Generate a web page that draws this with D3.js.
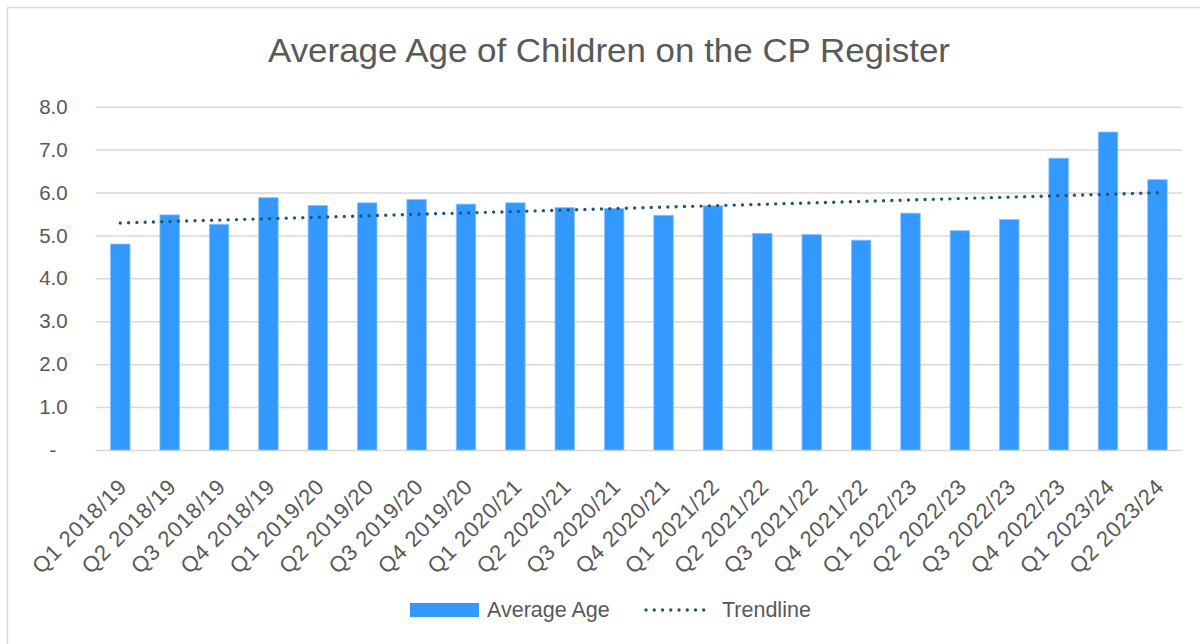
<!DOCTYPE html>
<html>
<head>
<meta charset="utf-8">
<script src="https://cdn.jsdelivr.net/npm/d3@7"></script>
<style>
  body { margin: 0; background: #fff; }
  svg { display: block; font-family: "Liberation Sans", Arial, sans-serif; }
</style>
</head>
<body>
<svg id="chart" width="1200" height="644"></svg>
<script>
// quarters on the x axis
var quarters = ["Q1 2018/19", "Q2 2018/19", "Q3 2018/19", "Q4 2018/19",
	"Q1 2019/20", "Q2 2019/20", "Q3 2019/20", "Q4 2019/20",
	"Q1 2020/21", "Q2 2020/21", "Q3 2020/21", "Q4 2020/21",
	"Q1 2021/22", "Q2 2021/22", "Q3 2021/22", "Q4 2021/22",
	"Q1 2022/23", "Q2 2022/23", "Q3 2022/23", "Q4 2022/23",
	"Q1 2023/24", "Q2 2023/24"];
// average age per quarter
var averageAge = [4.80, 5.48, 5.26, 5.88, 5.70, 5.76, 5.84, 5.73,
	5.76, 5.65, 5.63, 5.47, 5.69, 5.05, 5.02, 4.89,
	5.52, 5.11, 5.37, 6.80, 7.41, 6.30];
var yTicks = [0, 1, 2, 3, 4, 5, 6, 7, 8];

var titleText = "Average Age of Children on the CP Register";
var textColor = "#595959";
var gridColor = "#d9d9d9";
var barColor = "#3399ff";
var trendColor = "#1b5877";

var svg = d3.select("#chart");

// outer border (only top and left show inside the picture)
svg.append("rect")
	.attr("x", 7.5).attr("y", 7.5)
	.attr("width", 1240).attr("height", 700)
	.attr("fill", "none")
	.attr("stroke", gridColor)
	.attr("stroke-width", 1.5);

var plot = { left: 95.7, right: 1182, top: 106.7, bottom: 450 };

var x = d3.scaleBand()
	.domain(quarters)
	.range([plot.left, plot.right])
	.paddingInner(0.605)
	.paddingOuter(0.3);

var y = d3.scaleLinear()
	.domain([0, 8])
	.range([plot.bottom, plot.top]);

// title
svg.append("text")
	.attr("x", 609)
	.attr("y", 62)
	.attr("text-anchor", "middle")
	.attr("font-size", 33)
	.attr("fill", textColor)
	.attr("textLength", 682)
	.attr("lengthAdjust", "spacingAndGlyphs")
	.text(titleText);

// gridlines + y labels
var yAxis = d3.axisLeft(y)
	.tickValues(yTicks)
	.tickSize(-(plot.right - plot.left))
	.tickPadding(28)
	.tickFormat(function(d){ return d === 0 ? "-" : d3.format(".1f")(d); });

var gy = svg.append("g")
	.attr("transform", "translate(" + plot.left + ",0)")
	.call(yAxis);
gy.select(".domain").remove();
gy.selectAll(".tick line")
	.attr("stroke", gridColor)
	.attr("stroke-width", 1.5);
gy.selectAll(".tick text")
	.attr("font-size", 20.5)
	.attr("fill", textColor)
	.attr("font-family", "Liberation Sans, Arial, sans-serif");
gy.selectAll(".tick text")
	.filter(function(d){ return d === 0; })
	.attr("text-anchor", "middle")
	.attr("x", 53 - plot.left);

// bars
svg.append("g")
	.selectAll("rect")
	.data(averageAge)
	.enter()
	.append("rect")
	.attr("x", function(d, i){ return x(quarters[i]); })
	.attr("y", function(d){ return y(d); })
	.attr("width", x.bandwidth())
	.attr("height", function(d){ return y(0) - y(d); })
	.attr("fill", barColor)
	.attr("stroke", "#8cc4ff")
	.attr("stroke-width", 0.8);

// x axis labels, rotated
var xAxis = d3.axisBottom(x).tickSize(0).tickPadding(0);
var gx = svg.append("g")
	.attr("transform", "translate(0," + plot.bottom + ")")
	.call(xAxis);
gx.select(".domain").remove();
gx.selectAll(".tick text")
	.attr("font-size", 22)
	.attr("letter-spacing", 0.8)
	.attr("fill", textColor)
	.attr("font-family", "Liberation Sans, Arial, sans-serif")
	.attr("text-anchor", "end")
	.attr("dy", null)
	.attr("transform", "translate(8,38) rotate(-45)");

// linear trendline (least squares over the bar values)
var n = averageAge.length;
var xs = d3.range(1, n + 1);
var mx = d3.mean(xs), my = d3.mean(averageAge);
var sxy = d3.sum(xs, function(v, i){ return (v - mx) * (averageAge[i] - my); });
var sxx = d3.sum(xs, function(v){ return (v - mx) * (v - mx); });
var slope = sxy / sxx;
var intercept = my - slope * mx;
var trend = [1, n].map(function(k){ return { q: quarters[k - 1], v: intercept + slope * k }; });

var line = d3.line()
	.x(function(d){ return x(d.q) + x.bandwidth() / 2; })
	.y(function(d){ return y(d.v); });

svg.append("path")
	.datum(trend)
	.attr("d", line)
	.attr("fill", "none")
	.attr("stroke", trendColor)
	.attr("stroke-width", 3.4)
	.attr("stroke-linecap", "round")
	.attr("stroke-dasharray", "0 8.3");

// legend
var legend = svg.append("g");
legend.append("rect")
	.attr("x", 410).attr("y", 603)
	.attr("width", 69).attr("height", 14)
	.attr("fill", barColor);
legend.append("text")
	.attr("x", 487).attr("y", 617)
	.attr("font-size", 21.5)
	.attr("fill", textColor)
	.text("Average Age");
legend.append("line")
	.attr("x1", 646).attr("x2", 712)
	.attr("y1", 610).attr("y2", 610)
	.attr("stroke", trendColor)
	.attr("stroke-width", 3.4)
	.attr("stroke-linecap", "round")
	.attr("stroke-dasharray", "0 8.25");
legend.append("text")
	.attr("x", 722).attr("y", 617)
	.attr("font-size", 21.5)
	.attr("fill", textColor)
	.text("Trendline");
</script>
</body>
</html>
